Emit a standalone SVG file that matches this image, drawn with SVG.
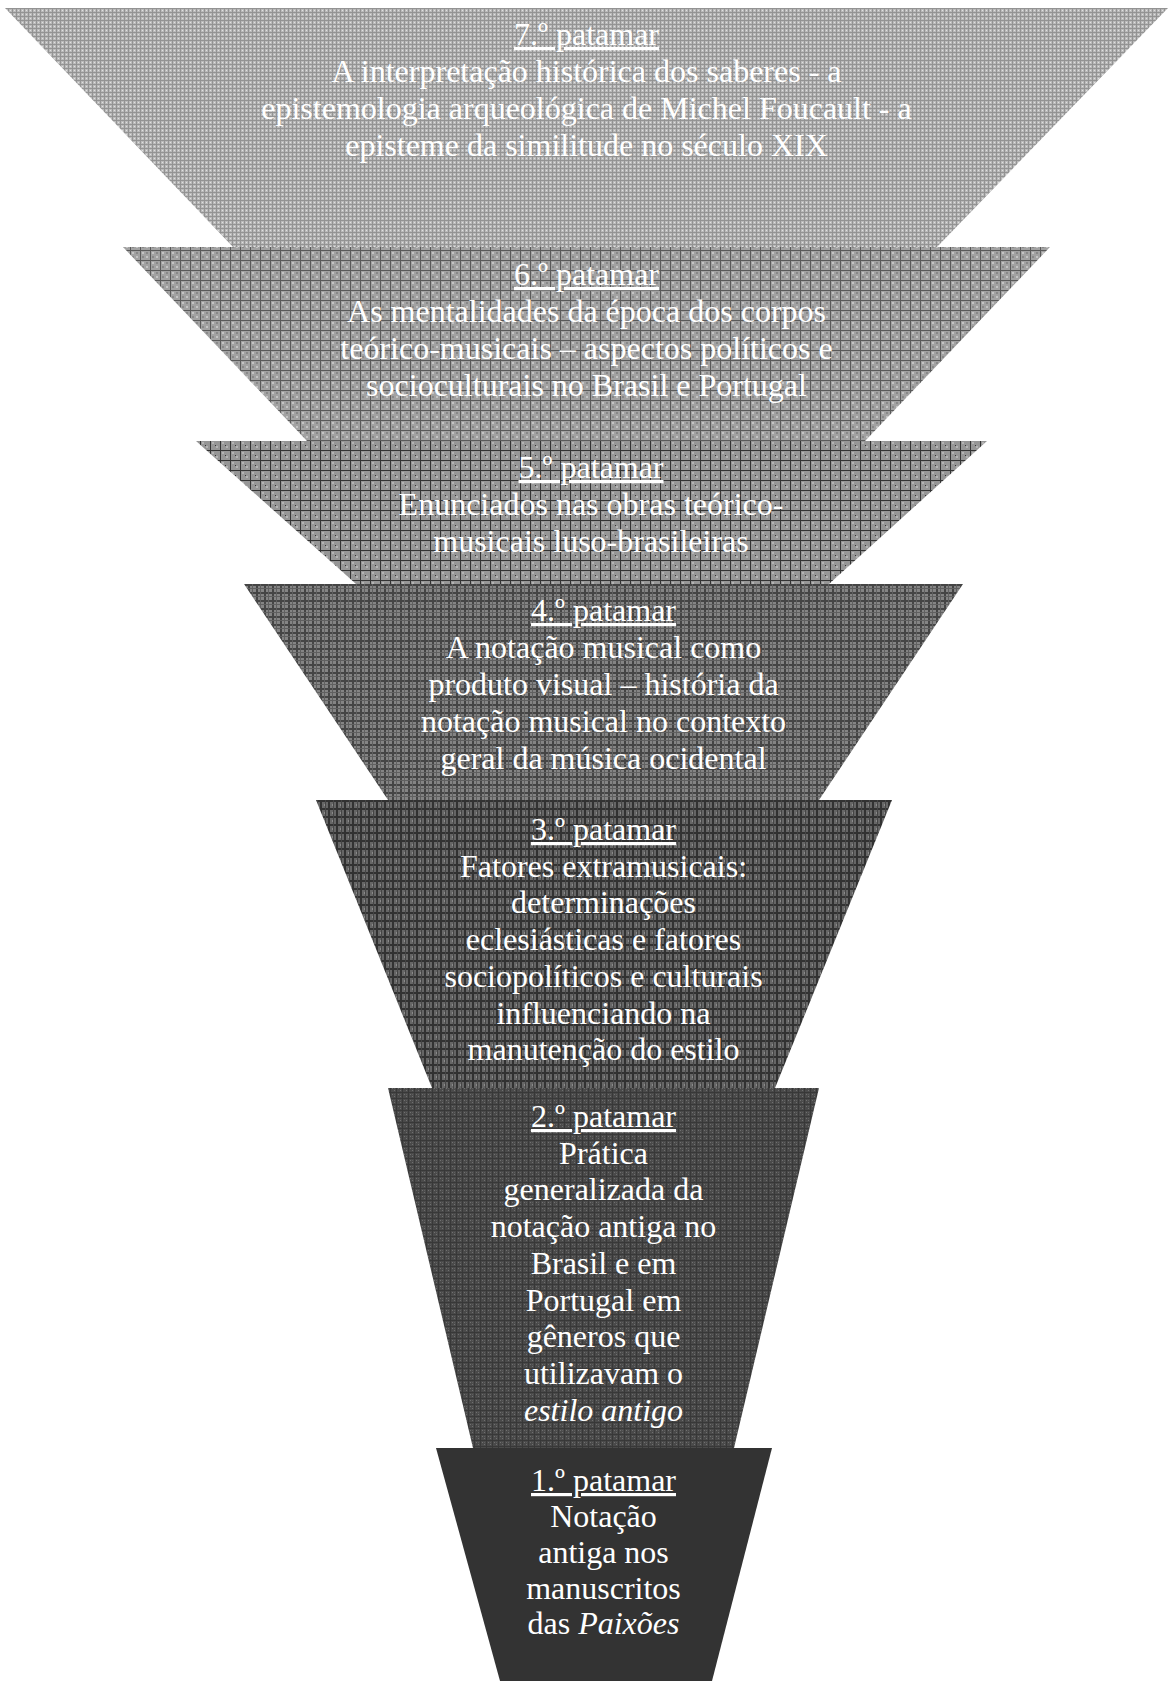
<svg xmlns="http://www.w3.org/2000/svg" width="1171" height="1681" viewBox="0 0 1171 1681">
<style>
  text { font-family: "Liberation Serif", "Times New Roman", serif; font-size: 32px; fill: #ffffff; text-anchor: middle; }
  .u { text-decoration: underline; }
  .i { font-style: italic; }
</style>
<defs>
  <pattern id="p7" width="4" height="4" patternUnits="userSpaceOnUse">
    <rect width="4" height="4" fill="#bababa"/>
    <rect width="4" height="1" fill="#939393"/>
    <rect width="1" height="4" fill="#939393"/>
    <rect x="2" y="2" width="1" height="1" fill="#e0e0e0"/>
  </pattern>
  <pattern id="p6" width="10" height="10" patternUnits="userSpaceOnUse">
    <rect width="10" height="10" fill="#a2a2a2"/>
    <rect x="2" y="2" width="2" height="2" fill="#c4c4c4"/>
    <rect x="6" y="6" width="2" height="2" fill="#c4c4c4"/>
    <rect x="6" y="2" width="2" height="2" fill="#888888"/>
    <rect x="2" y="6" width="2" height="2" fill="#888888"/>
    <rect width="10" height="1" fill="#5a5a5a"/>
    <rect width="1" height="10" fill="#5a5a5a"/>
  </pattern>
  <pattern id="p5" width="10" height="10" patternUnits="userSpaceOnUse">
    <rect width="10" height="10" fill="#969696"/>
    <rect x="2" y="2" width="2" height="2" fill="#b4b4b4"/>
    <rect x="6" y="6" width="2" height="2" fill="#b4b4b4"/>
    <rect x="5" y="5" width="1" height="1" fill="#333333"/>
    <rect width="10" height="1" fill="#333333"/>
    <rect width="1" height="10" fill="#333333"/>
  </pattern>
  <pattern id="p4" width="8" height="8" patternUnits="userSpaceOnUse">
    <rect width="8" height="8" fill="#848484"/>
    <rect width="8" height="2" fill="#454545"/>
    <rect width="2" height="8" fill="#454545"/>
    <rect x="4" width="1" height="8" fill="#606060"/>
    <rect y="4" width="8" height="1" fill="#606060"/>
  </pattern>
  <pattern id="p3" width="8" height="8" patternUnits="userSpaceOnUse">
    <rect width="8" height="8" fill="#666666"/>
    <rect width="8" height="2" fill="#323232"/>
    <rect width="2" height="8" fill="#323232"/>
    <rect x="4" y="4" width="2" height="2" fill="#8a8a8a"/>
    <rect x="5" width="1" height="8" fill="#454545"/>
  </pattern>
  <pattern id="p2" width="6" height="6" patternUnits="userSpaceOnUse">
    <rect width="6" height="6" fill="#4a4a4a"/>
    <rect width="6" height="1" fill="#383838"/>
    <rect width="1" height="6" fill="#383838"/>
    <rect x="2" y="2" width="1" height="1" fill="#707070"/>
    <rect x="4" y="4" width="1" height="1" fill="#707070"/>
    <rect x="4" y="2" width="1" height="1" fill="#5e5e5e"/>
  </pattern>
</defs>

<g id="connectors"></g>

<g id="level7">
  <polygon points="5,8 1168,8 937,247 233,247" fill="url(#p7)"/>
  <text x="586.5" y="45"><tspan class="u">7.º patamar</tspan></text>
  <text x="586.5" y="82">A interpretação histórica dos saberes - a</text>
  <text x="586.5" y="119">epistemologia arqueológica de Michel Foucault - a</text>
  <text x="586.5" y="156">episteme da similitude no século XIX</text>
</g>

<g id="level6">
  <polygon points="123,247 1050,247 865,441 307,441" fill="url(#p6)"/>
  <text x="586.5" y="285"><tspan class="u">6.º patamar</tspan></text>
  <text x="586.5" y="322">As mentalidades da época dos corpos</text>
  <text x="586.5" y="359">teórico-musicais – aspectos políticos e</text>
  <text x="586.5" y="396">socioculturais no Brasil e Portugal</text>
</g>

<g id="level5">
  <polygon points="196,441 987,441 829,584 356,584" fill="url(#p5)"/>
  <text x="591" y="478"><tspan class="u">5.º patamar</tspan></text>
  <text x="591" y="515">Enunciados nas obras teórico-</text>
  <text x="591" y="552">musicais luso-brasileiras</text>
</g>

<g id="level4">
  <polygon points="244,584 963,584 819,800 388,800" fill="url(#p4)"/>
  <text x="603.5" y="621"><tspan class="u">4.º patamar</tspan></text>
  <text x="603.5" y="658">A notação musical como</text>
  <text x="603.5" y="695">produto visual – história da</text>
  <text x="603.5" y="732">notação musical no contexto</text>
  <text x="603.5" y="769">geral da música ocidental</text>
</g>

<g id="level3">
  <polygon points="316,800 892,800 775,1088 432,1088" fill="url(#p3)"/>
  <text x="603.5" y="840"><tspan class="u">3.º patamar</tspan></text>
  <text x="603.5" y="876.7">Fatores extramusicais:</text>
  <text x="603.5" y="913.4">determinações</text>
  <text x="603.5" y="950">eclesiásticas e fatores</text>
  <text x="603.5" y="986.8">sociopolíticos e culturais</text>
  <text x="603.5" y="1023.5">influenciando na</text>
  <text x="603.5" y="1060">manutenção do estilo</text>
</g>

<g id="level2">
  <polygon points="388,1088 819,1088 734,1448 473,1448" fill="url(#p2)"/>
  <text x="603.5" y="1127"><tspan class="u">2.º patamar</tspan></text>
  <text x="603.5" y="1163.7">Prática</text>
  <text x="603.5" y="1200.4">generalizada da</text>
  <text x="603.5" y="1237">notação antiga no</text>
  <text x="603.5" y="1273.8">Brasil e em</text>
  <text x="603.5" y="1310.5">Portugal em</text>
  <text x="603.5" y="1347">gêneros que</text>
  <text x="603.5" y="1384">utilizavam o</text>
  <text x="603.5" y="1420.6" class="i">estilo antigo</text>
</g>

<g id="level1">
  <polygon points="436,1448 772,1448 712,1681 500,1681" fill="#333333"/>
  <text x="603.5" y="1491"><tspan class="u">1.º patamar</tspan></text>
  <text x="603.5" y="1527">Notação</text>
  <text x="603.5" y="1563">antiga nos</text>
  <text x="603.5" y="1598.5">manuscritos</text>
  <text x="603.5" y="1634">das <tspan class="i">Paixões</tspan></text>
</g>
</svg>
